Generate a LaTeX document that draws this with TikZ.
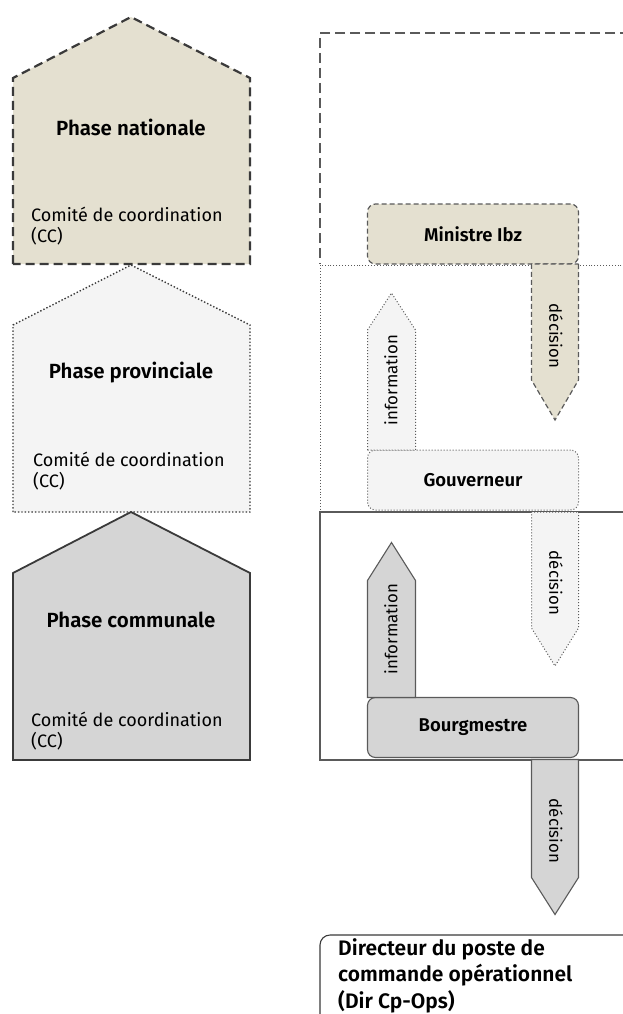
\documentclass[tikz,border=0pt]{standalone}
\usepackage{fontspec}
\setmainfont{Fira Sans}[BoldFont={Fira Sans SemiBold}]
\usetikzlibrary{calc, positioning}
\definecolor{NatFill}{HTML}{E4E0D0}
\definecolor{ProvFill}{HTML}{F4F4F4}
\definecolor{ComFill}{HTML}{D5D5D5}
\definecolor{EdgeDark}{HTML}{3A3A3A}
\definecolor{EdgeGray}{HTML}{5A5A5A}

\begin{document}
\begin{tikzpicture}[x=1pt, y=-1pt, font=\fontsize{17}{20}\selectfont,
    natline/.style={draw=EdgeDark, dash pattern=on 9pt off 5pt, line width=2.2pt},
    provline/.style={draw=EdgeDark, dotted, line width=1.4pt},
    comline/.style={draw=EdgeDark, line width=1.8pt},
    title/.style={font=\fontsize{20.5}{24}\selectfont\bfseries},
    cclabel/.style={anchor=west, align=left, inner sep=0pt, font=\fontsize{18}{21.5}\selectfont},
    box/.style={rectangle, rounded corners=8pt, minimum width=211pt, minimum height=60pt, outer sep=0pt, font=\fontsize{18.5}{22}\selectfont\bfseries},
    natbox/.style={box, fill=NatFill, draw=EdgeGray, dash pattern=on 5pt off 3pt, line width=1.2pt},
    provbox/.style={box, fill=ProvFill, draw=EdgeGray, dotted, line width=1pt},
    combox/.style={box, fill=ComFill, draw=EdgeGray, line width=1.1pt},
    natarrow/.style={fill=NatFill, draw=EdgeGray, dash pattern=on 5pt off 3pt, line width=1.2pt},
    provarrow/.style={fill=ProvFill, draw=EdgeGray, dotted, line width=1pt},
    comarrow/.style={fill=ComFill, draw=EdgeGray, line width=1.1pt},
    arrowlabel/.style={font=\fontsize{16.8}{20}\selectfont, inner sep=0pt}]

  \clip (0,0) rectangle (623,1014);

  % Houses (phases)
  \draw[natline, fill=NatFill] (13,264) -- (13,78) -- (131,17) -- (250,78) -- (250,264) -- cycle;
  \draw[provline, fill=ProvFill] (13,512) -- (13,325) -- (131,265) -- (250,325) -- (250,512) -- cycle;
  \draw[comline, fill=ComFill] (13,760) -- (13,573) -- (131,512) -- (250,573) -- (250,760) -- cycle;

  \node[title] (nat) at (131,127) {Phase nationale};
  \node[title] (prov) at (131,373) {Phase provinciale};
  \node[title] (com) at (131,620) {Phase communale};

  \node[cclabel] (natcc) at (31,226) {Comité de coordination\\(CC)};
  \node[cclabel] (provcc) at (33,471) {Comité de coordination\\(CC)};
  \node[cclabel] (comcc) at (31,731) {Comité de coordination\\(CC)};

  % Levels on the right
  \draw[draw=EdgeGray, dash pattern=on 10pt off 5pt, line width=1.3pt] (630,33) -- (320,33) -- (320,264);
  \draw[draw=EdgeGray, dotted, line width=0.9pt] (630,265) -- (320,265) -- (320,512);
  \draw[draw=EdgeGray, line width=1.1pt] (630,512) -- (320,512) -- (320,760) -- (630,760);

  % Boxes
  \node[natbox] (min) at (473,234) {Ministre Ibz};
  \node[provbox] (gouv) at (473,480) {Gouverneur};
  \node[combox] (bourg) at (473,727.5) {Bourgmestre};

  \node[draw=EdgeDark, fill=white, rounded corners=10pt, line width=1.1pt, minimum width=330pt, minimum height=100pt, anchor=north west, outer sep=0pt] (dirbox) at (320,935) {};
  \node[anchor=north west, align=left, inner sep=0pt, font=\fontsize{21}{26.5}\selectfont\bfseries] (dir) at (338,938) {Directeur du poste de\\commande opérationnel\\(Dir Cp-Ops)};

  % Arrows
  \draw[natarrow] (min.south east) -- ++(0,116) -- ++(-23.5,40) -- ++(-23.5,-40) -- ++(0,-116) -- cycle;
  \draw[provarrow] (gouv.north west) -- ++(0,-120) -- ++(24,-37) -- ++(24,37) -- ++(0,120) -- cycle;
  \draw[provarrow] (gouv.south east) ++(0,2) -- ++(0,116) -- ++(-23.5,38) -- ++(-23.5,-38) -- ++(0,-116) -- cycle;
  \draw[comarrow] (bourg.north west) -- ++(0,-117) -- ++(24,-38) -- ++(24,38) -- ++(0,117) -- cycle;
  \draw[comarrow] (bourg.south east) ++(0,2) -- ++(0,118) -- ++(-23.5,37) -- ++(-23.5,-37) -- ++(0,-118) -- cycle;

  \node[arrowlabel, rotate=-90] (dec1) at (556,336) {décision};
  \node[arrowlabel, rotate=90] (info1) at (391,380) {information};
  \node[arrowlabel, rotate=-90] (dec2) at (556,583) {décision};
  \node[arrowlabel, rotate=90] (info2) at (391,629) {information};
  \node[arrowlabel, rotate=-90] (dec3) at (556,831) {décision};
\end{tikzpicture}
\end{document}
